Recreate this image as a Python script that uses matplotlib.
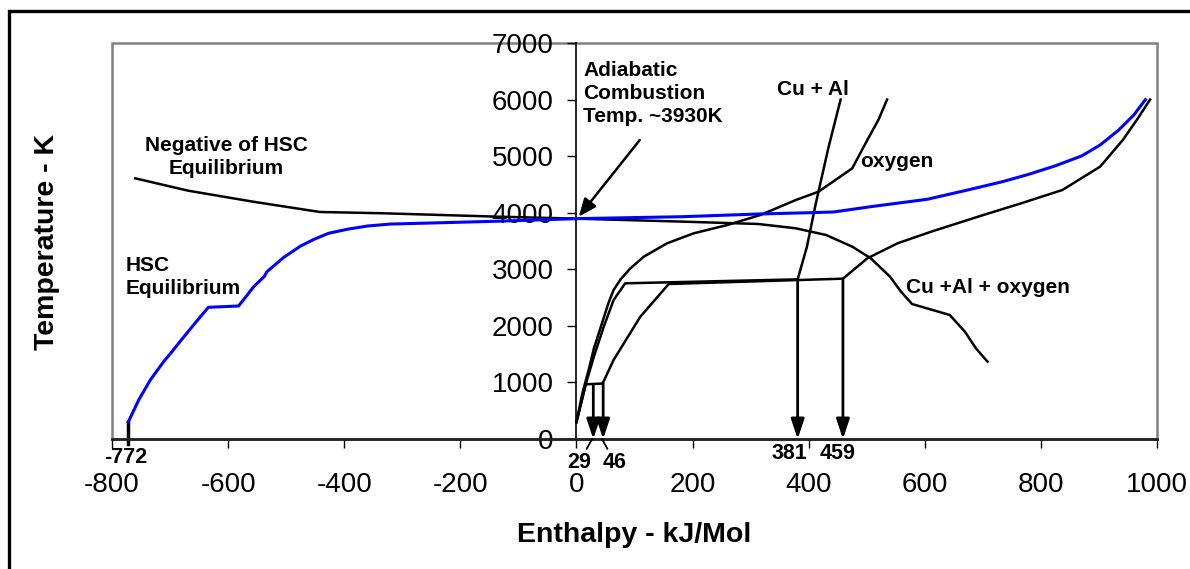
import matplotlib
matplotlib.use("Agg")
import matplotlib.pyplot as plt
from matplotlib.patches import Rectangle

plt.rcParams['font.family'] = ['Liberation Sans', 'DejaVu Sans']
plt.rcParams['axes.unicode_minus'] = False

# HSC equilibrium (blue)
hsc_h = [-772, -754, -734, -711, -699, -676, -650, -634, -582, -567, -556, -538, -533, -504,
         -475, -452, -427, -395, -360, -320, -269, -135, 0, 184, 313, 404, 443, 507, 604,
         669, 734, 779, 824, 870, 902, 934, 960, 980]
hsc_t = [298, 689, 1043, 1367, 1515, 1809, 2134, 2328, 2351, 2545, 2692, 2869, 2958, 3212,
         3412, 3530, 3636, 3707, 3765, 3800, 3813, 3850, 3895, 3930, 3977, 4001, 4013, 4107, 4237,
         4390, 4549, 4679, 4826, 5003, 5197, 5462, 5727, 6000]

# negative of HSC equilibrium
neg_h = [-760, -669, -557, -442, -333, -135, 0, 184, 313, 378, 430, 475, 507, 540, 559, 578,
         643, 669, 688, 708]
neg_t = [4608, 4390, 4195, 4013, 3990, 3930, 3895, 3842, 3801, 3724, 3606, 3400, 3194, 2870,
         2605, 2386, 2192, 1898, 1603, 1367]

# oxygen
oxy_h = [0, 10, 21, 30, 41, 55, 64, 76, 93, 116, 156, 202, 260, 317, 378, 417, 475, 501, 520, 535]
oxy_t = [298, 800, 1220, 1600, 1950, 2400, 2634, 2822, 3017, 3223, 3459, 3636, 3783, 3960,
         4225, 4372, 4785, 5285, 5639, 6000]

# Cu + Al
cual_h = [0, 16, 30, 47, 64, 84, 381, 397, 412, 434, 455]
cual_t = [298, 967, 1455, 1985, 2457, 2752, 2822, 3400, 4150, 5150, 6000]

# Cu + Al + oxygen
cualo_h = [0, 16, 45, 64, 110, 159, 459, 501, 553, 611, 701, 766, 837, 902, 941, 967, 988]
cualo_t = [298, 967, 980, 1397, 2162, 2740, 2834, 3194, 3459, 3665, 3960, 4166, 4402, 4814,
           5285, 5668, 6000]

# marked enthalpies
mark_h = [29, 46, 381, 459]
mark_t = [967, 980, 2822, 2834]

fig = plt.figure(figsize=(11.9, 5.69), dpi=100)
ax = fig.add_axes([0.0941, 0.2285, 0.8782, 0.6959])

ax.plot(hsc_h, hsc_t, color='#0000ff', lw=2.2, zorder=3)
ax.plot(neg_h, neg_t, color='k', lw=1.8)
ax.plot(oxy_h, oxy_t, color='k', lw=1.8)
ax.plot(cual_h, cual_t, color='k', lw=1.8)
ax.plot(cualo_h, cualo_t, color='k', lw=1.8)

for h, t in zip(mark_h, mark_t):
    ax.annotate('', xy=(h, 0), xytext=(h, t),
                arrowprops=dict(arrowstyle='-|>,head_length=0.6,head_width=0.2',
                                mutation_scale=20, lw=2, color='k',
                                shrinkA=0, shrinkB=0))

lab = dict(fontsize=15.5, fontweight='bold', ha='center', va='center')

# -772 marker
ax.plot([-772, -772], [298, -90], color='k', lw=2.5, clip_on=False)
ax.text(-777, -330, '-772', **lab)

ax.annotate('29', xy=(27, 0), xytext=(5, -410),
            arrowprops=dict(arrowstyle='-', lw=1.3, color='k', shrinkA=0, shrinkB=0), **lab)
ax.annotate('46', xy=(44, 0), xytext=(66, -410),
            arrowprops=dict(arrowstyle='-', lw=1.3, color='k', shrinkA=0, shrinkB=0), **lab)
ax.text(367, -260, '381', **lab)
ax.text(449, -260, '459', **lab)

txt = dict(fontsize=15, fontweight='bold', linespacing=1.25)
ax.text(-603, 4985, 'Negative of HSC\nEquilibrium', ha='center', va='center', **txt)
ax.text(-777, 2864, 'HSC\nEquilibrium', ha='left', va='center', **txt)
ax.text(12, 6107, 'Adiabatic\nCombustion\nTemp. ~3930K', ha='left', va='center', **txt)
ax.annotate('', xy=(4, 3930), xytext=(109, 5285),
            arrowprops=dict(arrowstyle='-|>,head_length=0.6,head_width=0.25',
                            mutation_scale=18, lw=1.8, color='k',
                            shrinkA=0, shrinkB=0))
ax.text(407, 6187, 'Cu + Al', ha='center', va='center', **txt)
ax.text(488, 4900, 'oxygen', ha='left', va='center', **txt)
ax.text(568, 2680, 'Cu +Al + oxygen', ha='left', va='center', **txt)

ax.set_xlim(-800, 1000)
ax.set_ylim(0, 7000)
ax.set_xticks(range(-800, 1001, 200))
ax.set_yticks(range(0, 7001, 1000))
ax.tick_params(axis='both', direction='out', length=6.5, width=1, labelsize=20)
ax.tick_params(axis='x', pad=17)
ax.tick_params(axis='y', pad=10)

ax.spines['left'].set_position(('data', 0))
ax.spines['left'].set_linewidth(1.2)
ax.spines['bottom'].set_linewidth(2)
ax.spines['bottom'].set_color('#222222')
ax.spines['top'].set_visible(False)
ax.spines['right'].set_visible(False)
ax.add_patch(Rectangle((0, 0), 1, 1, transform=ax.transAxes, fill=False,
                       edgecolor='#808080', lw=1.8, clip_on=False, zorder=0.5))

fig.text(47 / 1190, 0.574, 'Temperature - K', rotation=90, ha='center', va='center',
         fontsize=20.5, fontweight='bold')
fig.text(634 / 1190, 1 - 535 / 569, 'Enthalpy - kJ/Mol', ha='center', va='center',
         fontsize=20.5, fontweight='bold')

fig.add_artist(Rectangle((9 / 1190, -0.1), 1.2, 1.1 - 11 / 569, transform=fig.transFigure,
                         fill=False, edgecolor='k', lw=2.4))

fig.savefig('out.png', dpi=100)
